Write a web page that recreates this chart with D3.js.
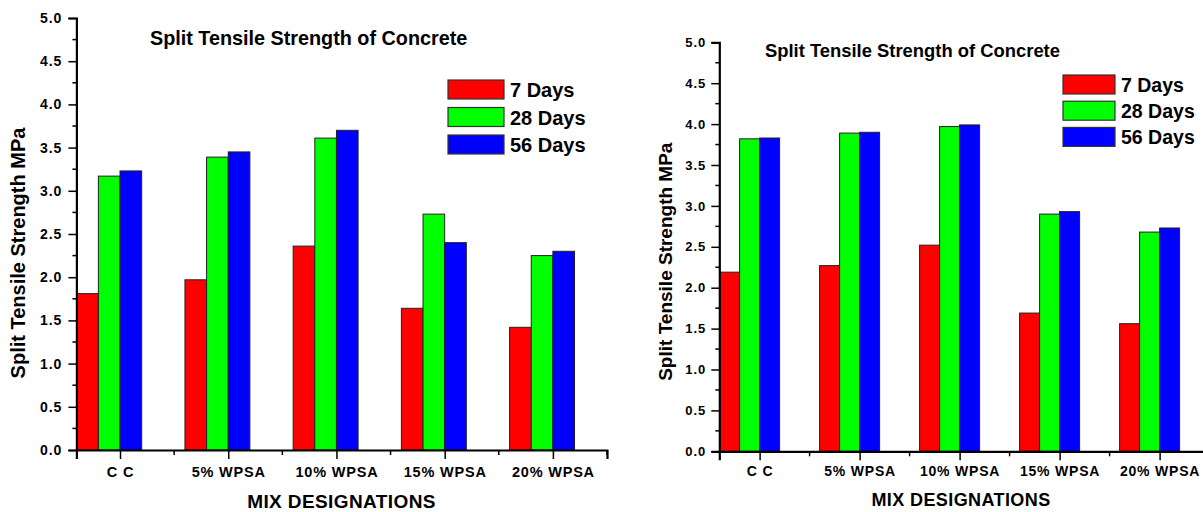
<!DOCTYPE html>
<html>
<head>
<meta charset="utf-8">
<script src="https://cdn.jsdelivr.net/npm/d3@7"></script>
<style>
  body { margin: 0; background: #fff; }
  svg { display: block; font-family: "Liberation Sans", Arial, sans-serif; font-weight: bold; }
</style>
</head>
<body>
<div id="chart"></div>
<script>
// data
var categories = ["C C", "5% WPSA", "10% WPSA", "15% WPSA", "20% WPSA"];
var seriesNames = ["7 Days", "28 Days", "56 Days"];
var seriesColors = ["#ff0000", "#00ff00", "#0000ff"];

var leftDays7  = [1.81, 1.97, 2.36, 1.64, 1.42];
var leftDays28 = [3.17, 3.39, 3.61, 2.73, 2.25];
var leftDays56 = [3.23, 3.45, 3.70, 2.40, 2.30];

var rightDays7  = [2.19, 2.27, 2.52, 1.69, 1.56];
var rightDays28 = [3.82, 3.89, 3.97, 2.90, 2.68];
var rightDays56 = [3.83, 3.90, 3.99, 2.93, 2.73];

var yTickValues = [0, 0.5, 1, 1.5, 2, 2.5, 3, 3.5, 4, 4.5, 5];
var yMinorValues = [0.25, 0.75, 1.25, 1.75, 2.25, 2.75, 3.25, 3.75, 4.25, 4.75];

var svg = d3.select("#chart")
    .append("svg")
    .attr("width", 1203)
    .attr("height", 512);

// one panel
function drawPanel(p) {
    var series = [p.d7, p.d28, p.d56];

    var x = d3.scaleLinear().domain([0.597, 5.5]).range([p.left, p.right]);
    var y = d3.scaleLinear().domain([0, 5]).range([p.bottom, p.top]);
    var w = x(1.2) - x(1);

    var g = svg.append("g");

    // bars
    series.forEach(function(vals, s) {
        g.selectAll(null)
            .data(vals)
            .enter()
            .append("rect")
            .attr("x", function(d, i) { return x(i + 1) + (s - 2) * w; })
            .attr("y", function(d) { return y(d); })
            .attr("width", w)
            .attr("height", function(d) { return y(0) - y(d); })
            .attr("fill", seriesColors[s])
            .attr("stroke", "#222")
            .attr("stroke-width", 1);
    });

    // y axis
    var yAxis = g.append("g")
        .attr("transform", "translate(" + p.left + ",0)")
        .call(d3.axisLeft(y).tickValues(yTickValues).tickSize(8).tickPadding(p.yPad)
            .tickFormat(d3.format(".1f")));
    yAxis.append("g").selectAll("line")
        .data(yMinorValues)
        .enter().append("line")
        .attr("x1", -4).attr("x2", 0)
        .attr("y1", function(d) { return y(d); })
        .attr("y2", function(d) { return y(d); })
        .attr("stroke", "#000").attr("stroke-width", 1.5);

    // x axis
    var xAxis = g.append("g")
        .attr("transform", "translate(0," + p.bottom + ")")
        .call(d3.axisBottom(x).tickValues([1, 2, 3, 4, 5]).tickSize(9).tickPadding(p.xPad)
            .tickFormat(function(d) { return categories[d - 1]; }));
    xAxis.append("g").selectAll("line")
        .data([1.5, 2.5, 3.5, 4.5, 5.5])
        .enter().append("line")
        .attr("x1", function(d) { return x(d); })
        .attr("x2", function(d) { return x(d); })
        .attr("y1", 0).attr("y2", 5)
        .attr("stroke", "#000").attr("stroke-width", 1.5);

    [yAxis, xAxis].forEach(function(a) {
        a.select(".domain").attr("stroke", "#000").attr("stroke-width", 2.2);
        a.selectAll(".tick line").attr("stroke", "#000").attr("stroke-width", 1.5);
        a.selectAll("text").attr("fill", "#000").style("font-weight", "bold");
    });
    yAxis.selectAll("text").style("font-size", p.yFont + "px").style("letter-spacing", "1px");
    xAxis.selectAll("text").style("font-size", p.xFont + "px").style("letter-spacing", "0.8px");

    // title
    g.append("text")
        .attr("x", p.titleX).attr("y", p.titleY)
        .style("font-size", p.titleFont + "px")
        .text("Split Tensile Strength of Concrete");

    // axis titles
    g.append("text")
        .attr("transform", "translate(" + p.yTitleX + "," + p.yTitleY + ") rotate(-90)")
        .attr("text-anchor", "middle")
        .style("font-size", p.yTitleFont + "px")
        .text("Split Tensile Strength MPa");
    g.append("text")
        .attr("x", p.xTitleX).attr("y", p.xTitleY)
        .attr("text-anchor", "middle")
        .style("font-size", p.xTitleFont + "px")
        .style("letter-spacing", "0.4px")
        .text("MIX DESIGNATIONS");

    // legend
    var leg = g.selectAll(".leg")
        .data(seriesNames)
        .enter().append("g")
        .attr("transform", function(d, i) { return "translate(" + p.legX + "," + (p.legY + i * p.legStep) + ")"; });
    leg.append("rect")
        .attr("width", p.legW).attr("height", 19)
        .attr("fill", function(d, i) { return seriesColors[i]; })
        .attr("stroke", "#333").attr("stroke-width", 1.2);
    leg.append("text")
        .attr("x", p.legW + 6).attr("y", 17)
        .style("font-size", p.legFont + "px")
        .text(function(d) { return d; });
}

drawPanel({
    d7: leftDays7, d28: leftDays28, d56: leftDays56,
    left: 76.4, right: 607, top: 18, bottom: 450,
    yPad: 6, xPad: 8, yFont: 14, xFont: 14.5,
    titleX: 150, titleY: 45, titleFont: 19.8,
    yTitleX: 25, yTitleY: 253, yTitleFont: 20,
    xTitleX: 341.5, xTitleY: 507.5, xTitleFont: 19,
    legX: 448, legY: 80, legStep: 27.5, legW: 56, legFont: 20
});

drawPanel({
    d7: rightDays7, d28: rightDays28, d56: rightDays56,
    left: 719.3, right: 1209.6, top: 42.3, bottom: 451.3,
    yPad: 5, xPad: 6, yFont: 13, xFont: 14,
    titleX: 765, titleY: 56.7, titleFont: 18.4,
    yTitleX: 672, yTitleY: 261.7, yTitleFont: 19,
    xTitleX: 961, xTitleY: 505.5, xTitleFont: 18,
    legX: 1063, legY: 75, legStep: 26.2, legW: 52, legFont: 19.5
});
</script>
</body>
</html>
